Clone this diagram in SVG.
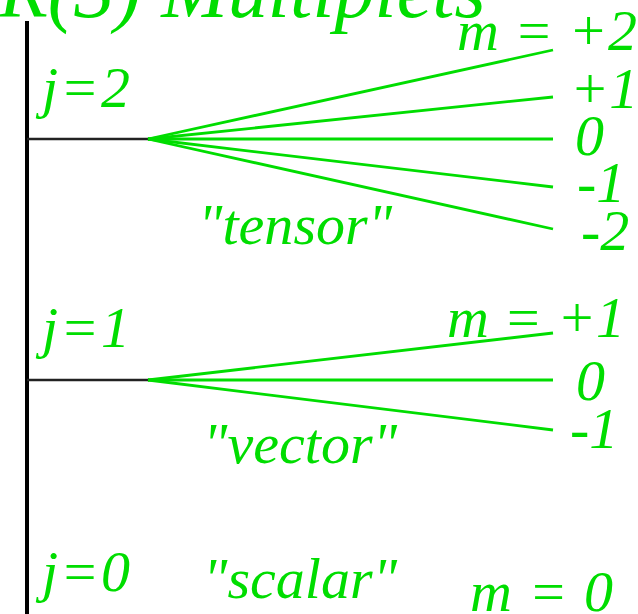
<svg xmlns="http://www.w3.org/2000/svg" width="638" height="614" viewBox="0 0 638 614">
<style>
text { font-family: "Liberation Serif", "Times New Roman", serif; font-style: italic; fill: #00dd00; font-size: 58px; }
.title { font-size: 80px; }
.axis { stroke: #000; stroke-width: 4; }
.stem { stroke: #222; stroke-width: 2.5; }
.level { stroke: #00dd00; stroke-width: 2.8; fill: none; }
</style>
<rect width="638" height="614" fill="#fff"/>
<g id="title"><text class="title" x="-1" y="17">R(3) Multiplets</text></g>
<g id="axis"><line class="axis" x1="27" y1="21" x2="27" y2="614"/></g>
<g id="connectors">
  <line class="stem" x1="27" y1="139" x2="149" y2="139"/>
  <line class="stem" x1="27" y1="380" x2="149" y2="380"/>
  <line class="level" x1="148" y1="139" x2="553" y2="50"/>
  <line class="level" x1="148" y1="139" x2="553" y2="97"/>
  <line class="level" x1="148" y1="139" x2="553" y2="139"/>
  <line class="level" x1="148" y1="139" x2="553" y2="187"/>
  <line class="level" x1="148" y1="139" x2="553" y2="229"/>
  <line class="level" x1="148" y1="380" x2="553" y2="333"/>
  <line class="level" x1="148" y1="380" x2="553" y2="380"/>
  <line class="level" x1="148" y1="380" x2="553" y2="430"/>
</g>
<g id="multiplet-j2">
  <text x="42" y="107" textLength="88" lengthAdjust="spacing">j=2</text>
  <text x="198" y="244" textLength="194" lengthAdjust="spacing">"tensor"</text>
  <text x="457" y="50" textLength="180" lengthAdjust="spacing">m = +2</text>
  <text x="570" y="108">+1</text>
  <text x="575" y="155">0</text>
  <text x="577" y="202">-1</text>
  <text x="581" y="250">-2</text>
</g>
<g id="multiplet-j1">
  <text x="42" y="347" textLength="88" lengthAdjust="spacing">j=1</text>
  <text x="203" y="463" textLength="194" lengthAdjust="spacing">"vector"</text>
  <text x="447" y="337" textLength="178" lengthAdjust="spacing">m = +1</text>
  <text x="576" y="400">0</text>
  <text x="570" y="448">-1</text>
</g>
<g id="multiplet-j0">
  <text x="42" y="591" textLength="88" lengthAdjust="spacing">j=0</text>
  <text x="203" y="598" textLength="194" lengthAdjust="spacing">"scalar"</text>
  <text x="470" y="611" textLength="143" lengthAdjust="spacing">m = 0</text>
</g>
</svg>
